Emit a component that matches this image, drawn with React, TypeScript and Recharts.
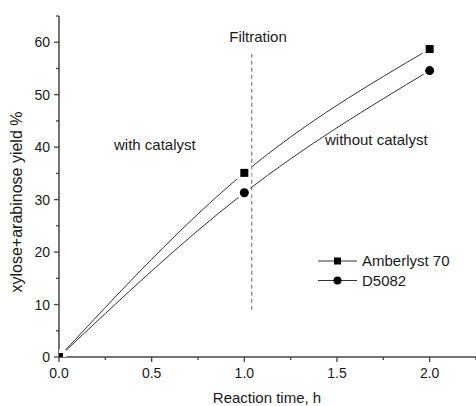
import {
  Customized,
  Line,
  LineChart,
  ReferenceLine,
  XAxis,
  YAxis,
} from "recharts";

const hours = [0, 1, 2];
const amberlyst70 = [0, 35.1, 58.7];
const d5082 = [0, 31.3, 54.6];

const xTicks = [0, 0.25, 0.5, 0.75, 1, 1.25, 1.5, 1.75, 2, 2.25];
const yTicks = [0, 5, 10, 15, 20, 25, 30, 35, 40, 45, 50, 55, 60, 65];

const filtrationTime = 1.04;
const filtrationFrom = 9;
const filtrationTo = 58;

const seriesNames = ["Amberlyst 70", "D5082"];

const FONT = '"Liberation Sans", Arial, sans-serif';
const AXIS = "#444";
const INK = "#1a1a1a";

const chartData = hours.map((time, i) => ({
  time,
  amberlyst: amberlyst70[i],
  d5082: d5082[i],
}));

function YTick(props: any) {
  const { x, y, payload } = props;
  const major = payload.value % 10 === 0;
  return (
    <g>
      <line x1={x - (major ? 5 : 3)} x2={x} y1={y} y2={y} stroke={AXIS} strokeWidth={1.3} />
      {major && (
        <text x={x - 9} y={y + 5} textAnchor="end" fontSize={14} fill={INK} fontFamily={FONT}>
          {payload.value}
        </text>
      )}
    </g>
  );
}

function XTick(props: any) {
  const { x, y, payload } = props;
  const major = Math.round(payload.value * 100) % 50 === 0;
  return (
    <g>
      <line x1={x} x2={x} y1={y} y2={y + (major ? 5 : 3)} stroke={AXIS} strokeWidth={1.3} />
      {major && (
        <text x={x} y={y + 21} textAnchor="middle" fontSize={14} fill={INK} fontFamily={FONT}>
          {payload.value.toFixed(1)}
        </text>
      )}
    </g>
  );
}

function SquareDot(props: any) {
  const { cx, cy } = props;
  if (cx == null || cy == null) return <g />;
  return (
    <g>
      <rect x={cx - 7} y={cy - 7} width={14} height={14} fill="#fff" />
      <rect x={cx - 4} y={cy - 4} width={8} height={8} fill="#000" />
    </g>
  );
}

function CircleDot(props: any) {
  const { cx, cy } = props;
  if (cx == null || cy == null) return <g />;
  return (
    <g>
      <circle cx={cx} cy={cy} r={7.5} fill="#fff" />
      <circle cx={cx} cy={cy} r={4.5} fill="#000" />
    </g>
  );
}

// legend + free text, drawn on top of the plot
function Annotations() {
  return (
    <g fontFamily={FONT} fill={INK} fontSize={15}>
      <text x={258} y={42} textAnchor="middle">Filtration</text>
      <text x={114} y={150}>with catalyst</text>
      <text x={325} y={145}>without catalyst</text>
      <text x={267} y={403} textAnchor="middle">Reaction time, h</text>
      <text
        x={22}
        y={202}
        textAnchor="middle"
        fontSize={16}
        transform="rotate(-90 22 202)"
      >
        xylose+arabinose yield %
      </text>
      <g transform="translate(318 261)">
        {seriesNames.map((name, i) => {
          const y = i * 19.5;
          return (
            <g key={name}>
              <line x1={0} x2={39} y1={y} y2={y} stroke="#333" strokeWidth={1} />
              {i === 0 ? (
                <rect x={16} y={y - 3.5} width={7} height={7} fill="#000" />
              ) : (
                <circle cx={19.5} cy={y} r={4} fill="#000" />
              )}
              <text x={44} y={y + 5}>{name}</text>
            </g>
          );
        })}
      </g>
    </g>
  );
}

export default function App() {
  return (
    <div style={{ position: "absolute", left: 0, top: 0, background: "#fff" }}>
      <LineChart
        width={476}
        height={406}
        data={chartData}
        margin={{ top: 16, right: 0, bottom: 0, left: 0 }}
      >
        <XAxis
          dataKey="time"
          type="number"
          domain={[0, 2.25]}
          ticks={xTicks}
          interval={0}
          allowDataOverflow
          height={49}
          tickSize={0}
          tickMargin={0}
          tickLine={false}
          tick={<XTick />}
          axisLine={{ stroke: AXIS, strokeWidth: 1.5 }}
        />
        <YAxis
          type="number"
          domain={[0, 65]}
          ticks={yTicks}
          interval={0}
          allowDataOverflow
          width={59}
          tickSize={0}
          tickMargin={0}
          tickLine={false}
          tick={<YTick />}
          axisLine={{ stroke: AXIS, strokeWidth: 1.5 }}
        />
        <ReferenceLine
          segment={[
            { x: filtrationTime, y: filtrationFrom },
            { x: filtrationTime, y: filtrationTo },
          ]}
          stroke="#666"
          strokeWidth={1}
          strokeDasharray="4 3"
        />
        <Line
          type="natural"
          dataKey="d5082"
          name="D5082"
          stroke="#333"
          strokeWidth={1}
          dot={(p: any) => <CircleDot {...p} key={`ci-${p.index}`} />}
          activeDot={false}
          isAnimationActive={false}
        />
        <Line
          type="natural"
          dataKey="amberlyst"
          name="Amberlyst 70"
          stroke="#333"
          strokeWidth={1}
          dot={(p: any) => <SquareDot {...p} key={`sq-${p.index}`} />}
          activeDot={false}
          isAnimationActive={false}
        />
        <Customized component={<Annotations />} />
      </LineChart>
    </div>
  );
}
